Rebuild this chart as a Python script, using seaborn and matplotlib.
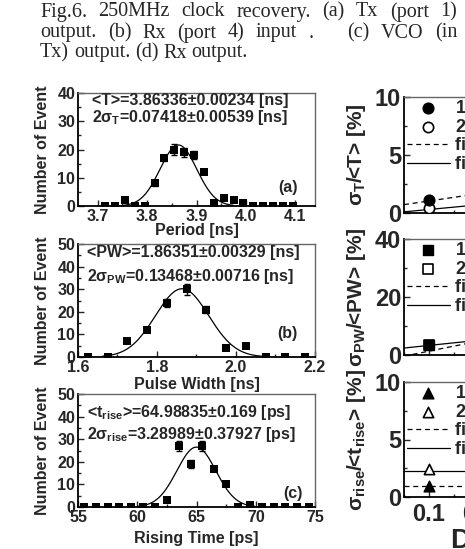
import numpy as np
import pandas as pd
import matplotlib
matplotlib.use("Agg")
import matplotlib.pyplot as plt
import seaborn as sns
from matplotlib.ticker import MultipleLocator, FormatStrFormatter

# (a) period histogram, Tx output
period_bins = [3.715, 3.735, 3.755, 3.775, 3.795, 3.815, 3.835, 3.855, 3.875, 3.895,
               3.915, 3.935, 3.955, 3.975, 3.995, 4.015, 4.035, 4.055, 4.075, 4.095]
period_counts = [0, 0, 2, 0, 0, 8, 17, 20, 19, 18, 12, 1, 3, 2, 1, 0, 0, 0, 0, 0]
period_err = [0, 0, 0, 0, 0, 0.8, 1.2, 1.8, 1.6, 1.3, 0.6, 0, 0, 0, 0, 0, 0, 0, 0, 0]
period_fit = (3.86336, 0.07418, 21.6)   # mean, 2 sigma, height

# (b) pulse width histogram, Rx input
pw_bins = [1.625, 1.675, 1.725, 1.775, 1.825, 1.875, 1.925, 1.975, 2.025, 2.075, 2.125, 2.175]
pw_counts = [0, 0, 7, 12, 24, 30, 21, 4, 5, 0, 0, 0]
pw_err = [0, 0, 0.5, 0.8, 1.8, 2.4, 1.6, 0.4, 0.4, 0, 0, 0]
pw_fit = (1.86351, 0.13468, 30.2)

# (c) rising time histogram
rise_bins = [55.5, 56.5, 57.5, 58.5, 59.5, 60.5, 61.5, 62.5, 63.5, 64.5,
             65.5, 66.5, 67.5, 68.5, 69.5, 70.5, 71.5, 72.5, 73.5, 74.5]
rise_counts = [0, 0, 0, 0, 0, 0, 0, 3, 27, 19, 27, 17, 10, 0, 1, 0, 0, 0, 0, 0]
rise_err = [0, 0, 0, 0, 0, 0, 0, 0.5, 2.0, 1.6, 2.2, 1.0, 0.6, 0, 0.3, 0, 0, 0, 0, 0]
rise_fit = (64.98835, 3.28989, 26.5)

# (d) relative jitter vs distance
dist = [0.1]
sT_100 = [1.1]
sT_250 = [0.4]
sPW_100 = [3.3]
sPW_250 = [3.3]
sR_100 = [1.0]
sR_250 = [2.4]
fit_x = [0.05, 0.2]
fitT_100 = [0.72, 1.67]
fitT_250 = [0.1, 0.71]
fitPW_100 = [-0.4, 4.8]
fitPW_250 = [2.4, 5.1]
fitR_100 = [1.0, 1.0]
fitR_250 = [2.3, 2.3]

caption_lines = [
    ['Fig.6.', '250MHz', 'clock', 'recovery.', '(a)', 'Tx', '(port', '1)'],
    ['output.', '(b)', 'Rx', '(port', '4)', 'input', '.', '(c)', 'VCO', '(in'],
    ['Tx)', 'output.', '(d)', 'Rx', 'output.'],
]

sns.set_style("ticks")
plt.rcParams['font.family'] = ['Liberation Sans', 'DejaVu Sans']
plt.rcParams['font.weight'] = 'bold'
plt.rcParams['mathtext.fontset'] = 'custom'
plt.rcParams['mathtext.rm'] = 'Liberation Sans:bold'
plt.rcParams['mathtext.it'] = 'Liberation Sans:bold'
plt.rcParams['mathtext.bf'] = 'Liberation Sans:bold'

W, H = 465, 549
fig = plt.figure(figsize=(W / 100, H / 100), dpi=100)


def px_axes(left, top, right, bottom):
    return fig.add_axes([left / W, 1 - bottom / H, (right - left) / W, (bottom - top) / H])


def style_axes(ax, size):
    for side in ['left', 'bottom']:
        ax.spines[side].set_linewidth(1.3)
        ax.spines[side].set_color('black')
    for side in ['top', 'right']:
        ax.spines[side].set_visible(True)
        ax.spines[side].set_linewidth(1.0)
        ax.spines[side].set_color('#666666')
    ax.tick_params(which='both', direction='in', labelsize=size, width=1.0, pad=2)
    ax.tick_params(which='major', length=4)
    ax.tick_params(which='minor', length=2)
    for t in ax.get_xticklabels() + ax.get_yticklabels():
        t.set_fontweight('bold')


def hist_panel(ax, bins, counts, err, fit, xlim, ylim, xmaj, ymaj, xlabel, txt, tag, tpos, lpos):
    df = pd.DataFrame({'x': bins, 'n': counts, 'e': err})
    ax.errorbar(df['x'], df['n'], yerr=df['e'], fmt='none', ecolor='black', elinewidth=1.0,
                capsize=2, capthick=1.0)
    sns.scatterplot(data=df, x='x', y='n', marker='s', s=26, color='black', edgecolor='black',
                    linewidth=0, ax=ax, zorder=3)
    mu, two_sig, amp = fit
    sig = two_sig / 2
    xs = np.linspace(mu - 3 * sig, mu + 3 * sig, 200)
    sns.lineplot(x=xs, y=amp * np.exp(-0.5 * ((xs - mu) / sig) ** 2), color='black',
                 linewidth=0.9, ax=ax)
    ax.set_xlim(*xlim)
    ax.set_ylim(*ylim)
    ax.xaxis.set_major_locator(MultipleLocator(xmaj))
    ax.xaxis.set_minor_locator(MultipleLocator(xmaj / 2))
    ax.yaxis.set_major_locator(MultipleLocator(ymaj))
    ax.yaxis.set_minor_locator(MultipleLocator(ymaj / 2))
    style_axes(ax, 11.5)
    ax.set_ylabel('Number of Event', fontsize=11.5, fontweight='bold')
    ax.yaxis.set_label_coords(-36 / 237, 0.5)
    ax.yaxis.label.set_va('center')
    ax.set_xlabel(xlabel, fontsize=11.5, fontweight='bold')
    ax.xaxis.set_label_coords(0.5, lpos)
    ax.xaxis.label.set_va('center')
    for (tx, ty), s in zip(tpos, txt):
        ax.text(tx, ty, s, transform=ax.transAxes, fontsize=11.5, fontweight='bold',
                ha='left', va='center')
    ax.text(tag[0], tag[1], tag[2], transform=ax.transAxes, fontsize=11.5,
            fontweight='bold', ha='center', va='center')


ax_a = px_axes(78, 93, 315, 206)
hist_panel(ax_a, period_bins, period_counts, period_err, period_fit, (3.66, 4.14), (0, 40),
           0.1, 10, 'Period [ns]',
           ['<T>=3.86336±0.00234 [ns]', r'2$\sigma_{\rm T}$=0.07418±0.00539 [ns]'],
           (0.885, 0.16, '(a)'), [(14 / 237, 1 - 7 / 113), (14 / 237, 1 - 24 / 113)], -24 / 113)

ax_b = px_axes(78, 244, 315, 357)
hist_panel(ax_b, pw_bins, pw_counts, pw_err, pw_fit, (1.6, 2.2), (0, 50),
           0.2, 10, 'Pulse Width [ns]',
           ['<PW>=1.86351±0.00329 [ns]', r'2$\sigma_{\rm PW}$=0.13468±0.00716 [ns]'],
           (0.885, 0.21, '(b)'), [(9 / 237, 1 - 9 / 113), (9 / 237, 1 - 33 / 113)], -28 / 113)

ax_c = px_axes(78, 394, 315, 507)
hist_panel(ax_c, rise_bins, rise_counts, rise_err, rise_fit, (55, 75), (0, 50),
           5, 10, 'Rising Time [ps]',
           [r'<t$_{\rm rise}$>=64.98835±0.169 [ps]', r'2$\sigma_{\rm rise}$=3.28989±0.37927 [ps]'],
           (0.905, 0.12, '(c)'), [(9 / 237, 1 - 18 / 113), (9 / 237, 1 - 41 / 113)], -31 / 113)


def jitter_panel(ax, y100, y250, f100, f250, ylim, ymaj, mk, ylabel):
    ax.plot(fit_x, f100, color='black', linestyle=(0, (4, 3)), linewidth=0.9, label='fit 100MHz')
    ax.plot(fit_x, f250, color='black', linestyle='-', linewidth=0.9, label='fit 250MHz')
    sns.scatterplot(x=dist, y=y100, marker=mk, s=60, color='black', edgecolor='black',
                    linewidth=1, ax=ax, zorder=5, label='100MHz')
    sns.scatterplot(x=dist, y=y250, marker=mk, s=55, color='white', edgecolor='black',
                    linewidth=1.2, ax=ax, zorder=4, label='250MHz')
    ax.set_xlim(0.05, 0.65)
    ax.set_ylim(*ylim)
    ax.xaxis.set_major_locator(MultipleLocator(0.1))
    ax.xaxis.set_minor_locator(MultipleLocator(0.05))
    ax.yaxis.set_major_locator(MultipleLocator(ymaj))
    ax.yaxis.set_minor_locator(MultipleLocator(ymaj / 2))
    ax.xaxis.set_major_formatter(FormatStrFormatter('%.1f'))
    ax.yaxis.set_major_formatter(FormatStrFormatter('%d'))
    style_axes(ax, 17)
    ax.set_ylabel(ylabel, fontsize=15, fontweight='bold')
    ax.yaxis.set_label_coords(-48 / 300, 0.5)
    ax.yaxis.label.set_va('center')
    h, l = ax.get_legend_handles_labels()
    order = [2, 3, 0, 1]
    ax.legend([h[i] for i in order], [l[i] for i in order], loc='upper left',
              bbox_to_anchor=(0.0, 1.0), frameon=False, handlelength=2.4,
              handletextpad=0.3, labelspacing=0.1, borderaxespad=0.0, borderpad=0.15,
              prop={'weight': 'bold', 'size': 13})


ax_d1 = px_axes(404, 97, 704, 213)
jitter_panel(ax_d1, sT_100, sT_250, fitT_100, fitT_250, (0, 10), 5, 'o',
             r'$\sigma_{\rm T}$/<T> [%]')
ax_d1.tick_params(axis='x', labelbottom=False)

ax_d2 = px_axes(404, 239, 704, 355)
jitter_panel(ax_d2, sPW_100, sPW_250, fitPW_100, fitPW_250, (0, 40), 20, 's',
             r'$\sigma_{\rm PW}$/<PW> [%]')
ax_d2.tick_params(axis='x', labelbottom=False)

ax_d3 = px_axes(404, 382, 704, 497)
jitter_panel(ax_d3, sR_100, sR_250, fitR_100, fitR_250, (0, 10), 5, '^',
             r'$\sigma_{\rm rise}$/<t$_{\rm rise}$> [%]')
ax_d3.tick_params(axis='x', pad=4)
ax_d3.set_xlabel('Distance [km]', fontsize=20, fontweight='bold')
ax_d3.xaxis.set_label_coords(47 / 300, -44 / 115)
ax_d3.xaxis.label.set_ha('left')
ax_d3.xaxis.label.set_va('center')

# justified caption above the panels
renderer = fig.canvas.get_renderer()
cap_rows = [(12, True, None), (33, True, 7), (53, False, None)]
for words, (ypx, justify, wide_gap) in zip(caption_lines, cap_rows):
    objs = [fig.text(0, 1 - ypx / H, w, family='Liberation Serif', fontsize=14.5,
                     fontweight='normal', va='center') for w in words]
    widths = [o.get_window_extent(renderer).width for o in objs]
    weights = [1.0] * (len(words) - 1)
    if wide_gap is not None:
        weights[wide_gap - 1] = 3.0
    if justify:
        unit = (457 - 40 - sum(widths)) / sum(weights)
    else:
        unit = 4.8
    x = 40.0
    for i, (o, w) in enumerate(zip(objs, widths)):
        o.set_x(x / W)
        if i < len(weights):
            x += w + unit * weights[i]

fig.savefig('out.png', dpi=100)
